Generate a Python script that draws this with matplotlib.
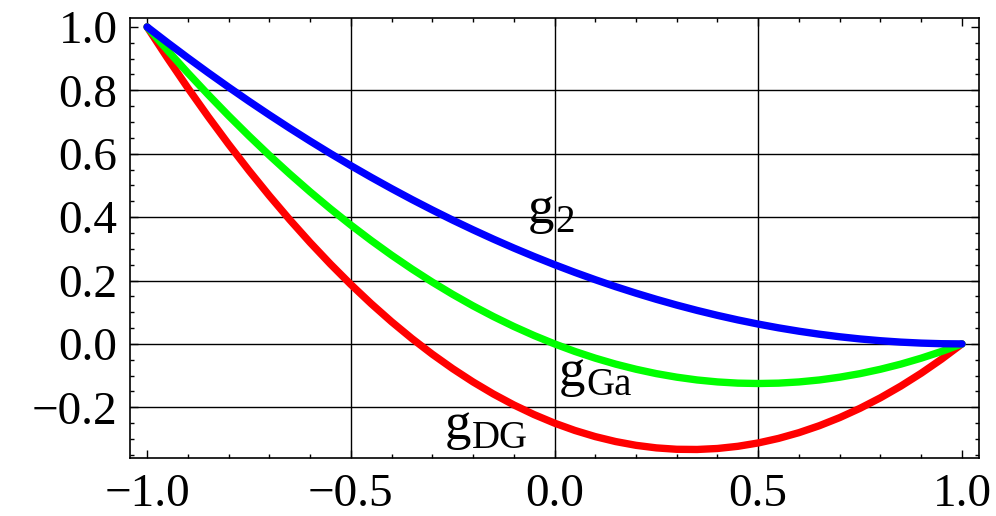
import matplotlib
matplotlib.use("Agg")
import matplotlib.pyplot as plt
from matplotlib.ticker import MultipleLocator, FuncFormatter

# values at x steps of 0.05
x = [-1.0, -0.95, -0.9, -0.85, -0.8, -0.75, -0.7, -0.65, -0.6, -0.55, -0.5,
     -0.45, -0.4, -0.35, -0.3, -0.25, -0.2, -0.15, -0.1, -0.05, 0.0,
     0.05, 0.1, 0.15, 0.2, 0.25, 0.3, 0.35, 0.4, 0.45, 0.5,
     0.55, 0.6, 0.65, 0.7, 0.75, 0.8, 0.85, 0.9, 0.95, 1.0]
g2 = [1.0, 0.9506, 0.9025, 0.8556, 0.81, 0.7656, 0.7225, 0.6806, 0.64, 0.6006, 0.5625,
      0.5256, 0.49, 0.4556, 0.4225, 0.3906, 0.36, 0.3306, 0.3025, 0.2756, 0.25,
      0.2256, 0.2025, 0.1806, 0.16, 0.1406, 0.1225, 0.1056, 0.09, 0.0756, 0.0625,
      0.0506, 0.04, 0.0306, 0.0225, 0.0156, 0.01, 0.0056, 0.0025, 0.0006, 0.0]
g_ga = [1.0, 0.9263, 0.855, 0.7863, 0.72, 0.6563, 0.595, 0.5363, 0.48, 0.4263, 0.375,
        0.3263, 0.28, 0.2363, 0.195, 0.1563, 0.12, 0.0863, 0.055, 0.0263, 0.0,
        -0.0238, -0.045, -0.0638, -0.08, -0.0938, -0.105, -0.1138, -0.12, -0.1238, -0.125,
        -0.1238, -0.12, -0.1138, -0.105, -0.0938, -0.08, -0.0638, -0.045, -0.0238, 0.0]
g_dg = [1.0, 0.9019, 0.8075, 0.7169, 0.63, 0.5469, 0.4675, 0.3919, 0.32, 0.2519, 0.1875,
        0.1269, 0.07, 0.0169, -0.0325, -0.0781, -0.12, -0.1581, -0.1925, -0.2231, -0.25,
        -0.2731, -0.2925, -0.3081, -0.32, -0.3281, -0.3325, -0.3331, -0.33, -0.3231, -0.3125,
        -0.2981, -0.28, -0.2581, -0.2325, -0.2031, -0.17, -0.1331, -0.0925, -0.0481, 0.0]

x_ticks = [-1.0, -0.5, 0.0, 0.5, 1.0]
y_ticks = [-0.2, 0.0, 0.2, 0.4, 0.6, 0.8, 1.0]
grid_x = [-0.5, 0.0, 0.5]
grid_y = [-0.2, 0.0, 0.2, 0.4, 0.6, 0.8]

# curve labels: (main letter, subscript, x, y)
labels = [("g", "2", -0.066, 0.382),
          ("g", "Ga", 0.01, -0.132),
          ("g", "DG", -0.27, -0.30)]

plt.rcParams['font.family'] = ['Liberation Serif', 'DejaVu Serif']

fig = plt.figure(figsize=(9.96, 5.16), dpi=100)
ax = fig.add_axes([0.1305, 0.1124, 0.8525, 0.8526])

for gx in grid_x:
    ax.axvline(gx, color='black', lw=1.0, zorder=1)
for gy in grid_y:
    ax.axhline(gy, color='black', lw=1.0, zorder=1)

ax.plot(x, g_dg, color=(1, 0, 0), lw=5.3, solid_capstyle='round', solid_joinstyle='round', zorder=3)
ax.plot(x, g_ga, color=(0, 1, 0), lw=5.3, solid_capstyle='round', solid_joinstyle='round', zorder=3)
ax.plot(x, g2, color=(0, 0, 1), lw=5.3, solid_capstyle='round', solid_joinstyle='round', zorder=3)

ax.set_xlim(-1.042, 1.042)
ax.set_ylim(-0.36, 1.028)

ax.xaxis.set_major_locator(plt.FixedLocator(x_ticks))
ax.yaxis.set_major_locator(plt.FixedLocator(y_ticks))
ax.xaxis.set_minor_locator(MultipleLocator(0.1))
ax.yaxis.set_minor_locator(MultipleLocator(0.05))

fmt = FuncFormatter(lambda v, p: ('\u2212' if v < -1e-9 else '') + f"{abs(v):.1f}")
ax.xaxis.set_major_formatter(fmt)
ax.yaxis.set_major_formatter(fmt)

ax.tick_params(which='both', direction='in', top=True, right=True, width=1.0, color='black')
ax.tick_params(which='major', length=5.5, labelsize=34)
ax.tick_params(which='minor', length=3.2)
ax.tick_params(axis='y', which='major', pad=9)
ax.tick_params(axis='x', which='major', pad=11)

for s in ax.spines.values():
    s.set_linewidth(1.2)

for main, sub, lx, ly in labels:
    ax.text(lx, ly, main, fontsize=38, va='baseline', ha='left', zorder=4)
    ax.annotate(sub, xy=(lx, ly), xytext=(20, -6.5), textcoords='offset points',
                fontsize=28, va='baseline', ha='left', zorder=4)

fig.savefig('out.png', dpi=100)
